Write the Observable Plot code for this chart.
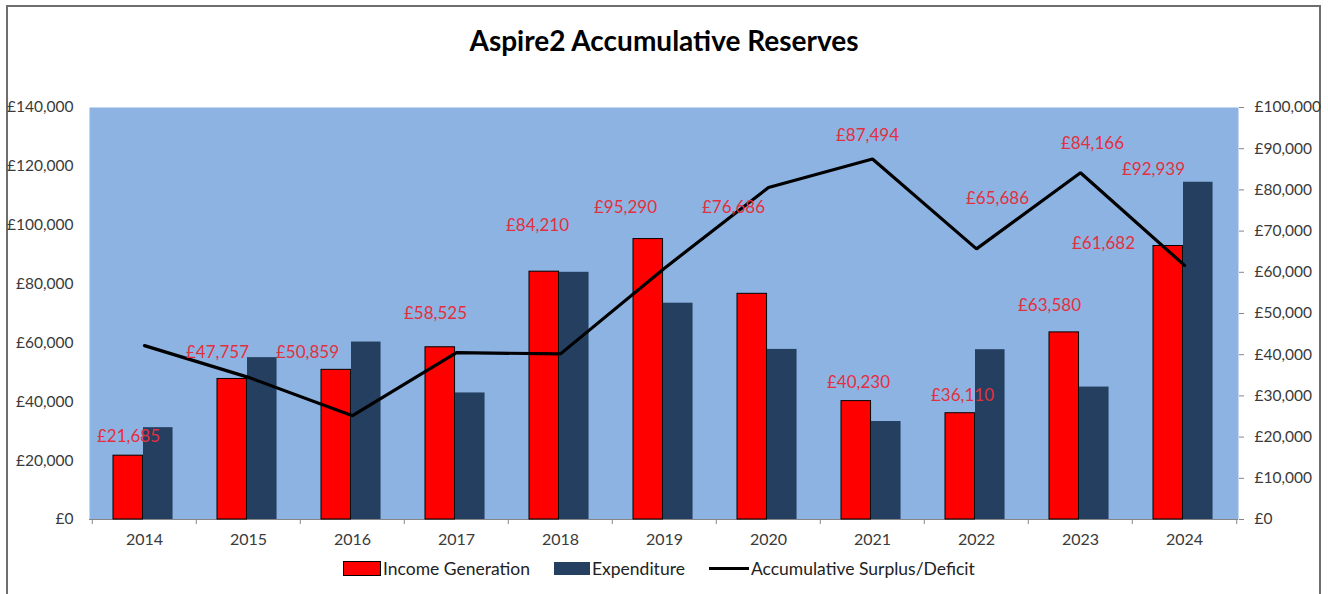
<!DOCTYPE html>
<html>
<head>
<meta charset="utf-8">
<script src="https://cdn.jsdelivr.net/npm/d3@7"></script>
<script src="https://cdn.jsdelivr.net/npm/@observablehq/plot@0.6"></script>
<style>
  html, body { margin: 0; padding: 0; background: #fff; }
  body { width: 1328px; height: 594px; position: relative; overflow: hidden; font-family: Lato, "Open Sans", sans-serif; }
  #frame { position: absolute; left: 6px; top: 5px; width: 1315px; height: 600px; border: 2px solid #6e6e6e; box-sizing: border-box; }
  #title { position: absolute; left: 0; top: 23px; width: 1328px; text-align: center; font-size: 28px; font-weight: bold; color: #000; }
  #chart { position: absolute; left: 0; top: 90px; }
  #chart svg { overflow: visible; }
  #legend { position: absolute; left: 343px; top: 558px; display: flex; align-items: center; font-size: 17.5px; color: #222; }
  .item { display: flex; align-items: center; margin-right: 24px; }
  .sw { display: inline-block; margin-right: 2px; }
</style>
</head>
<body>
<div id="frame"></div>
<div id="title">Aspire2 Accumulative Reserves</div>
<div id="chart"></div>
<div id="legend">
  <div class="item"><span class="sw" style="width:36px;height:13px;background:#FF0000;border:1px solid #000;"></span>Income Generation</div>
  <div class="item"><span class="sw" style="width:36px;height:13px;background:#243F60;"></span>Expenditure</div>
  <div class="item"><span class="sw" style="width:40px;height:3px;background:#000;"></span>Accumulative Surplus/Deficit</div>
</div>
<script>
// ---- data ----
const years = [2014, 2015, 2016, 2017, 2018, 2019, 2020, 2021, 2022, 2023, 2024];
const income = [21685, 47757, 50859, 58525, 84210, 95290, 76686, 40230, 36110, 63580, 92939];
const expenditure = [31200, 55000, 60300, 43000, 84000, 73500, 57800, 33300, 57700, 45000, 114600];
const surplus = [42200, 34500, 25200, 40500, 40200, 61000, 80600, 87494, 65686, 84166, 61682];
const surplusLabelYears = [2021, 2022, 2023, 2024];
const leftTicks = [0, 20000, 40000, 60000, 80000, 100000, 120000, 140000];
const rightTicks = [0, 10000, 20000, 30000, 40000, 50000, 60000, 70000, 80000, 90000, 100000];
const leftMax = 140000;
const rightMax = 100000;

// ---- rendering ----
const RATIO = leftMax / rightMax;
const fmt = d3.format(",");
const money = v => "£" + fmt(Math.round(v));
const rows = years.map((year, i) => ({year, income: income[i], expenditure: expenditure[i], surplus: surplus[i]}));

const W = 1328, mL = 89, mR = 90, mT = 17, mB = 36, H = 465;
const bw = (W - mL - mR) / years.length;

// hand-placed label nudges (pixels) as in the original chart
const incomeNudge = [[-16,-19],[-31,-26],[-45,-17],[-21,-34],[-23,-46],[-39,-32],[-35,-86],[-14,-19],[-14,-18],[-31,-27],[-31,-76]];
const surplusNudge = {2021: [-5,-23], 2022: [21,-50], 2023: [12,-29], 2024: [-81,-22]};
const labelColor = "#E2303F";

const marks = [
  Plot.frame({fill: "#8DB3E2"}),
  Plot.ruleY([0], {stroke: "#868686"}),
  Plot.ruleX(years, {x: d => d, dx: -bw / 2, insetTop: H - mT - mB, insetBottom: -5, stroke: "#868686"}),
  Plot.ruleX([years[years.length - 1]], {x: d => d, dx: bw / 2, insetTop: H - mT - mB, insetBottom: -5, stroke: "#868686"}),
  Plot.barY(rows, {x: "year", y: "income", fill: "#FF0000", stroke: "#000", strokeWidth: 1, insetLeft: 21, insetRight: bw - 51}),
  Plot.barY(rows, {x: "year", y: "expenditure", fill: "#243F60", insetLeft: 51, insetRight: bw - 81}),
  Plot.line(rows, {x: "year", y: d => d.surplus * RATIO, stroke: "#000", strokeWidth: 3.2, strokeLinejoin: "miter"}),
  ...rows.map((d, i) => Plot.text([d], {x: "year", y: "income", text: d => money(d.income), dx: incomeNudge[i][0], dy: incomeNudge[i][1], fill: labelColor, fontSize: 17})),
  ...rows.filter(d => surplusLabelYears.includes(d.year)).map(d => Plot.text([d], {x: "year", y: d => d.surplus * RATIO, text: d => money(d.surplus), dx: surplusNudge[d.year][0], dy: surplusNudge[d.year][1], fill: labelColor, fontSize: 17})),
  Plot.axisY({anchor: "left", ticks: leftTicks, tickFormat: d => money(d), tickSize: 0, tickPadding: 16, fontSize: 15.5}),
  Plot.axisY({anchor: "right", ticks: rightTicks.map(v => v * RATIO), tickFormat: d => money(d / RATIO), tickSize: 5, tickPadding: 11, fontSize: 15.5, stroke: "#868686"}),
  Plot.axisX({tickSize: 0, tickPadding: 14, fontSize: 16, tickFormat: d => String(d)})
];

const chart = Plot.plot({
  width: W, height: H,
  marginLeft: mL, marginRight: mR, marginTop: mT, marginBottom: mB,
  x: {type: "band", domain: years, padding: 0, label: null, axis: null},
  y: {domain: [0, leftMax], label: null, axis: null},
  style: {fontFamily: "Lato, 'Open Sans', sans-serif", color: "#3a3a3a", background: "transparent", overflow: "visible"},
  marks
});
document.getElementById("chart").appendChild(chart);
</script>
</body>
</html>
